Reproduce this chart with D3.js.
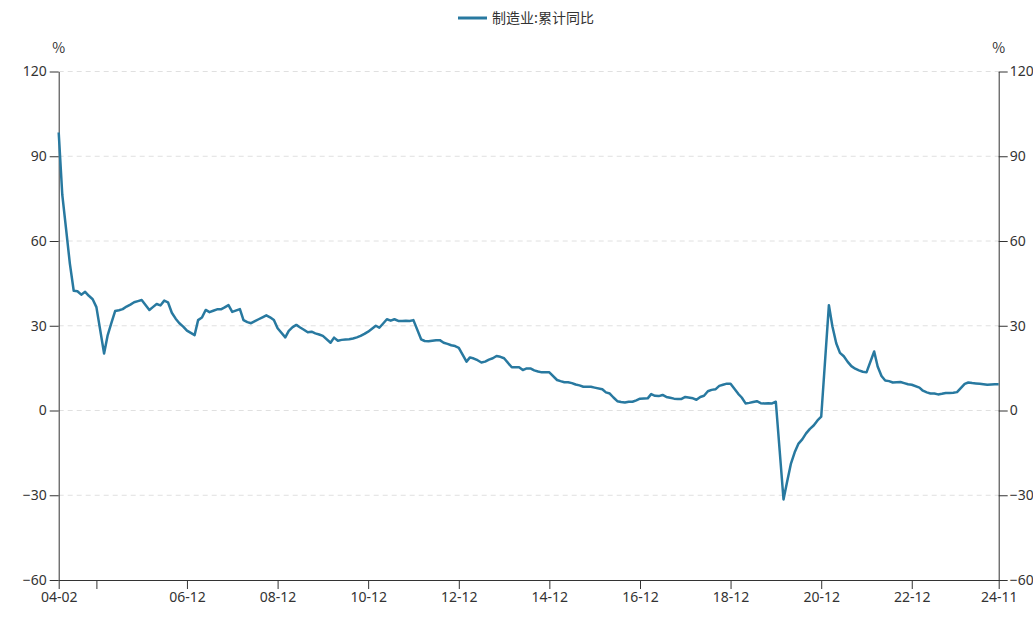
<!DOCTYPE html>
<html lang="zh">
<head>
    <meta charset="UTF-8">
    <title>制造业:累计同比</title>
    <style>
        body { margin: 0; background: #fff; }
        #chart svg { display: block; font-family: "Noto Sans CJK SC", "Noto Sans", sans-serif; }
    </style>
</head>
<body>
    <div id="chart"></div>
    <script src="https://cdnjs.cloudflare.com/ajax/libs/d3/7.8.5/d3.min.js"></script>
    <script>
        // months shown each year (Jan is merged into Feb in the source)
        const years = d3.range(2004, 2025);
        const months = [2, 3, 4, 5, 6, 7, 8, 9, 10, 11, 12];
        const lastMonth = "2024-11";

        // 制造业固定资产投资 累计同比 (%), Feb..Dec of each year
        const yoy = [
            98.4, 76.3, 64.0, 52.0, 42.4, 42.2, 41.0, 42.0, 40.6, 39.4, 36.6,   // 2004
            20.2, 26.5, 31.0, 35.2, 35.5, 35.9, 36.8, 37.5, 38.3, 38.7, 39.1,   // 2005
            35.6, 36.6, 37.7, 37.2, 38.9, 38.3, 34.6, 32.5, 30.9, 29.7, 28.3,   // 2006
            26.7, 32.0, 32.9, 35.6, 34.8, 35.3, 35.8, 35.8, 36.5, 37.3, 34.9,   // 2007
            35.9, 32.0, 31.3, 30.9, 31.6, 32.3, 33.0, 33.7, 33.0, 32.0, 29.1,   // 2008
            25.9, 28.2, 29.5, 30.3, 29.4, 28.6, 27.7, 27.9, 27.3, 26.9, 26.4,   // 2009
            24.0, 25.8, 24.7, 25.0, 25.1, 25.2, 25.5, 25.9, 26.4, 27.1, 27.9,   // 2010
            30.0, 29.3, 30.8, 32.3, 31.8, 32.3, 31.7, 31.7, 31.8, 31.7, 32.0,   // 2011
            25.2, 24.6, 24.5, 24.7, 24.9, 24.9, 24.0, 23.6, 23.1, 22.8, 22.2,   // 2012
            17.3, 18.8, 18.4, 17.8, 17.0, 17.3, 18.0, 18.5, 19.3, 19.0, 18.5,   // 2013
            15.3, 15.3, 15.3, 14.3, 14.9, 14.9, 14.2, 13.8, 13.5, 13.5, 13.5,   // 2014
            10.8, 10.4, 10.0, 10.0,  9.7,  9.2,  8.9,  8.4,  8.4,  8.4,  8.1,   // 2015
             7.5,  6.4,  6.0,  4.6,  3.3,  3.0,  2.8,  3.1,  3.1,  3.6,  4.2,   // 2016
             4.3,  5.8,  5.2,  5.1,  5.5,  4.8,  4.5,  4.2,  4.1,  4.1,  4.8,   // 2017
             4.3,  3.8,  4.8,  5.2,  6.8,  7.3,  7.5,  8.7,  9.1,  9.5,  9.5,   // 2018
             5.9,  4.6,  2.5,  2.7,  3.0,  3.3,  2.6,  2.5,  2.6,  2.5,  3.1,   // 2019
           -31.5,-25.2,-18.8,-14.8,-11.7,-10.2, -8.1, -6.5, -5.3, -3.5, -2.2,   // 2020
            37.3, 29.8, 23.8, 20.4, 19.2, 17.3, 15.7, 14.8, 14.2, 13.7, 13.5,   // 2021
            20.9, 15.6, 12.2, 10.6, 10.4,  9.9, 10.0, 10.1,  9.7,  9.3,  9.1,   // 2022
             8.1,  7.0,  6.4,  6.0,  6.0,  5.7,  5.9,  6.2,  6.2,  6.3,  6.5,   // 2023
             9.4,  9.9,  9.7,  9.6,  9.5,  9.3,  9.1,  9.2,  9.3,  9.3          // 2024
        ];

        const yTicks = [-60, -30, 0, 30, 60, 90, 120];
        const xTickDates = ["2004-02", "2004-12", "2006-12", "2008-12", "2010-12", "2012-12",
                            "2014-12", "2016-12", "2018-12", "2020-12", "2022-12", "2024-11"];
        const xTickLabels = ["04-02", "", "06-12", "08-12", "10-12", "12-12",
                             "14-12", "16-12", "18-12", "20-12", "22-12", "24-11"];
        const seriesName = "制造业:累计同比";

        const parse = d3.timeParse("%Y-%m");
        const pad = d3.format("02");

        // build month keys, stop at the last reported month
        let keys = [];
        years.forEach(y => months.forEach(m => keys.push(y + "-" + pad(m))));
        keys = keys.slice(0, keys.indexOf(lastMonth) + 1);
        const data = keys.map((k, i) => ({ date: parse(k), value: yoy[i] }));

        const width = 1033, height = 624;
        const margin = { top: 71.5, right: 34.3, bottom: 44, left: 58.7 };
        const color = "#2879a0";

        const svg = d3.select("#chart").append("svg")
            .attr("width", width)
            .attr("height", height);

        const x = d3.scaleTime()
            .domain([data[0].date, data[data.length - 1].date])
            .range([margin.left, width - margin.right]);

        const y = d3.scaleLinear()
            .domain([-60, 120])
            .range([height - margin.bottom, margin.top]);

        // dashed grid lines
        svg.append("g")
            .selectAll("line")
            .data(yTicks.filter(d => d !== -60))
            .enter()
            .append("line")
            .attr("x1", margin.left)
            .attr("x2", width - margin.right)
            .attr("y1", d => y(d))
            .attr("y2", d => y(d))
            .style("stroke", "#e0e0e0")
            .style("stroke-dasharray", "5,4");

        const axisColor = "#333";
        const styleAxis = g => {
            g.select(".domain").style("stroke", axisColor);
            g.selectAll(".tick line").style("stroke", axisColor);
            g.selectAll(".tick text").style("fill", "#333").style("font-size", "14px")
                .style("font-family", "\"Noto Sans\", \"Noto Sans CJK SC\", sans-serif");
        };

        svg.append("g")
            .attr("transform", `translate(${margin.left},0)`)
            .call(d3.axisLeft(y).tickValues(yTicks).tickSize(9).tickPadding(3).tickSizeOuter(0))
            .call(styleAxis);

        svg.append("g")
            .attr("transform", `translate(${width - margin.right},0)`)
            .call(d3.axisRight(y).tickValues(yTicks).tickSize(9).tickPadding(2).tickSizeOuter(0))
            .call(styleAxis);

        svg.append("g")
            .attr("transform", `translate(0,${height - margin.bottom})`)
            .call(d3.axisBottom(x)
                .tickValues(xTickDates.map(parse))
                .tickFormat((d, i) => xTickLabels[i])
                .tickSize(9).tickPadding(3).tickSizeOuter(0))
            .call(styleAxis);

        // unit labels
        [margin.left, width - margin.right].forEach(px => {
            svg.append("text")
                .attr("x", px)
                .attr("y", 53)
                .attr("text-anchor", "middle")
                .style("font-size", "14px")
                .style("fill", "#333")
                .text("%");
        });

        const line = d3.line()
            .x(d => x(d.date))
            .y(d => y(d.value));

        svg.append("path")
            .datum(data)
            .attr("d", line)
            .style("fill", "none")
            .style("stroke", color)
            .style("stroke-width", 2.5)
            .style("stroke-linejoin", "round");

        // legend
        const legend = svg.append("g").attr("transform", "translate(458,18)");
        legend.append("line")
            .attr("x1", 0).attr("x2", 29)
            .style("stroke", color)
            .style("stroke-width", 3);
        legend.append("text")
            .attr("x", 34)
            .attr("y", 5)
            .style("font-size", "14px")
            .style("fill", "#333")
            .text(seriesName);
    </script>
</body>
</html>
